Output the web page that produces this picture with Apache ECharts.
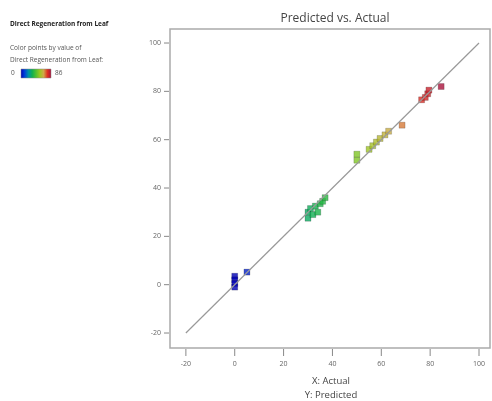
<!DOCTYPE html>
<html>
<head>
<meta charset="utf-8">
<script src="https://cdn.jsdelivr.net/npm/echarts@6/dist/echarts.min.js"></script>
<style>
html,body{margin:0;padding:0;background:#fff;}
#chart{width:492px;height:401px;}
</style>
</head>
<body>
<div id="chart"></div>
<script>
// Data
const actual    = [0, 0, 0, 0, 5,
                   30, 30, 31, 32, 33, 34, 35, 36, 37,
                   50, 50, 55, 56.5, 58, 59.5, 61.5, 63,
                   68.5,
                   76.5, 78, 79, 79.5, 84.5];
const predicted = [3.5, 2, 0.5, -1, 5.2,
                   27.5, 30, 31.5, 29, 32.5, 30, 33.5, 34.5, 36,
                   51.5, 54, 56, 57.5, 59, 60.5, 62, 63.5,
                   66,
                   76.5, 77.5, 79, 80.5, 82];
const tickValues = [-20, 0, 20, 40, 60, 80, 100];
const tickMin = -20, tickMax = 100, tickStep = 20;
const diagonal = [[-20, -20], [100, 100]];
const colorMin = 0, colorMax = 86;
const palette = ['#0000b4', '#0040d8', '#0090a8', '#10b050', '#50c030', '#98c820', '#d0a848', '#e03020', '#a01040'];

const points = actual.map((a, i) => [a, predicted[i], a]);

// plot window (data range shown inside the frame)
const xMin = -26.5, xMax = 104.5, yMin = -26.2, yMax = 105.8;
const G = {left: 170, right: 2, top: 29, bottom: 53};
const W = 492 - G.left - G.right, H = 401 - G.top - G.bottom;
// label grids aligned so that their [-20,100] spans match the data window
const xs = W / (xMax - xMin), ys = H / (yMax - yMin);
const gx = {left: G.left + (tickMin - xMin) * xs, right: G.right + (xMax - tickMax) * xs, top: G.top, bottom: G.bottom};
const gy = {left: G.left, right: G.right, top: G.top + (yMax - tickMax) * ys, bottom: G.bottom + (tickMin - yMin) * ys};

const chart = echarts.init(document.getElementById('chart'), null, {renderer: 'canvas'});
const axisLabelStyle = {color: '#666', fontSize: 7, fontFamily: 'Open Sans'};
const hiddenAxis = (gi, mn, mx) => ({type: 'value', gridIndex: gi, min: mn, max: mx, show: false, splitLine: {show: false}});

// tick marks drawn through the data axes (custom series)
function tickRenderer(dx1, dy1, dx2, dy2) {
  return function (params, api) {
    const p = api.coord([api.value(0), api.value(1)]);
    return {
      type: 'line',
      shape: {x1: p[0] + dx1, y1: p[1] + dy1, x2: p[0] + dx2, y2: p[1] + dy2},
      style: {stroke: '#888', lineWidth: 1}
    };
  };
}

chart.setOption({
  animation: false,
  backgroundColor: '#fff',
  title: {
    text: 'Predicted vs. Actual',
    left: 330, top: 8, textAlign: 'center',
    textStyle: {fontSize: 12, fontWeight: 'normal', color: '#444', fontFamily: 'Open Sans'}
  },
  grid: [
    Object.assign({show: true, borderColor: '#aaa', borderWidth: 1.5}, G),
    gx,
    gy
  ],
  xAxis: [
    hiddenAxis(0, xMin, xMax),
    {
      type: 'value', gridIndex: 1, min: tickMin, max: tickMax, interval: tickStep,
      splitLine: {show: false},
      axisLine: {show: false},
      axisTick: {show: false},
      axisLabel: Object.assign({margin: 12}, axisLabelStyle)
    },
    hiddenAxis(2, 0, 1)
  ],
  yAxis: [
    hiddenAxis(0, yMin, yMax),
    hiddenAxis(1, 0, 1),
    {
      type: 'value', gridIndex: 2, min: tickMin, max: tickMax, interval: tickStep,
      splitLine: {show: false},
      axisLine: {show: false},
      axisTick: {show: false},
      axisLabel: Object.assign({margin: 9}, axisLabelStyle)
    }
  ],
  visualMap: {
    show: false, type: 'continuous', dimension: 2, seriesIndex: 1,
    min: colorMin, max: colorMax, inRange: {color: palette}
  },
  graphic: [
    {type: 'text', x: 10, y: 21, style: {text: 'Direct Regeneration from Leaf', fontSize: 6.5, fontWeight: 'bold', fill: '#222', fontFamily: 'Open Sans'}},
    {type: 'text', x: 10, y: 45, style: {text: 'Color points by value of', fontSize: 6.5, fill: '#555', fontFamily: 'Open Sans'}},
    {type: 'text', x: 10, y: 57, style: {text: 'Direct Regeneration from Leaf:', fontSize: 6.5, fill: '#555', fontFamily: 'Open Sans'}},
    {type: 'text', x: 11, y: 70, style: {text: String(colorMin), fontSize: 6.5, fill: '#555', fontFamily: 'Open Sans'}},
    {type: 'rect', x: 21, y: 69, shape: {width: 30, height: 9},
      style: {fill: new echarts.graphic.LinearGradient(0, 0, 1, 0,
        palette.map((c, i) => ({offset: i / (palette.length - 1), color: c}))), stroke: '#888', lineWidth: 0.5}},
    {type: 'text', x: 55, y: 70, style: {text: String(colorMax), fontSize: 6.5, fill: '#555', fontFamily: 'Open Sans'}},
    {type: 'text', x: 331, y: 376, style: {text: 'X: Actual', fontSize: 9.5, fill: '#444', fontFamily: 'Open Sans', align: 'center'}},
    {type: 'text', x: 331, y: 390, style: {text: 'Y: Predicted', fontSize: 9.5, fill: '#444', fontFamily: 'Open Sans', align: 'center'}}
  ],
  series: [
    {
      type: 'line', xAxisIndex: 0, yAxisIndex: 0, data: diagonal, symbol: 'none', silent: true,
      lineStyle: {color: '#999', width: 1.2}
    },
    {
      type: 'scatter', xAxisIndex: 0, yAxisIndex: 0, data: points, symbol: 'rect', symbolSize: 6,
      itemStyle: {borderColor: 'rgba(0,0,0,0.35)', borderWidth: 0.6}
    },
    {
      type: 'custom', xAxisIndex: 0, yAxisIndex: 0, silent: true, clip: false,
      data: tickValues.map(v => [v, yMin]),
      renderItem: tickRenderer(0, 1, 0, 8)
    },
    {
      type: 'custom', xAxisIndex: 0, yAxisIndex: 0, silent: true, clip: false,
      data: tickValues.map(v => [xMin, v]),
      renderItem: tickRenderer(-1, 0, -6, 0)
    }
  ]
});
</script>
</body>
</html>
